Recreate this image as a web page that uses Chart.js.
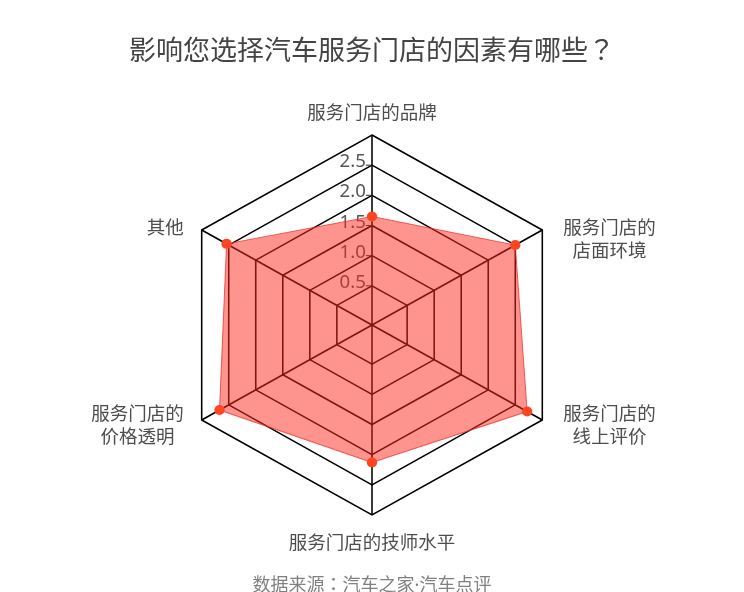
<!DOCTYPE html>
<html>
<head>
<meta charset="utf-8">
<script src="https://cdn.jsdelivr.net/npm/chart.js@4.4.1/dist/chart.umd.min.js"></script>
<style>
  html, body { margin: 0; padding: 0; background: #fff; }
  #wrap { position: relative; width: 744px; height: 592px; }
</style>
</head>
<body>
<div id="wrap"><canvas id="radar"></canvas></div>
<script>
var titleText = '影响您选择汽车服务门店的因素有哪些？';
var sourceText = '数据来源：汽车之家·汽车点评';
var categories = [
  '服务门店的品牌',
  ['服务门店的', '店面环境'],
  ['服务门店的', '线上评价'],
  '服务门店的技师水平',
  ['服务门店的', '价格透明'],
  '其他'
];
var scores = [1.65, 2.50, 2.72, 2.13, 2.67, 2.54];
var tickValues = [0.5, 1.0, 1.5, 2.0, 2.5, 3.0];
var tickLabels = ['0.5', '1.0', '1.5', '2.0', '2.5', ''];

var cjk = "'Noto Sans CJK SC', 'Noto Sans', sans-serif";
var cjkTitle = "'Noto Sans', 'Noto Sans CJK TC', sans-serif";
// the original polygon is a little wider than it is tall
var stretchX = 1.035;

var stretchPlugin = {
  id: 'stretchPlugin',
  beforeDraw: function(chart) {
    var s = chart.scales.r;
    var ctx = chart.ctx;
    ctx.save();
    ctx.translate(s.xCenter, 0);
    ctx.scale(stretchX, 1);
    ctx.translate(-s.xCenter, 0);
  },
  afterDatasetsDraw: function(chart) {
    chart.ctx.restore();
  }
};

// tick labels sit left of the vertical axis, under the filled area
var tickLabelPlugin = {
  id: 'tickLabelPlugin',
  beforeDatasetsDraw: function(chart) {
    var s = chart.scales.r;
    var ctx = chart.ctx;
    ctx.save();
    ctx.font = "18px 'Noto Sans', sans-serif";
    ctx.fillStyle = '#555';
    ctx.strokeStyle = '#333';
    ctx.lineWidth = 1;
    ctx.textAlign = 'right';
    ctx.textBaseline = 'middle';
    tickValues.forEach(function(v, i) {
      if (!tickLabels[i]) return;
      var y = s.yCenter - s.getDistanceFromCenterForValue(v);
      ctx.beginPath();
      ctx.moveTo(s.xCenter - 6, y);
      ctx.lineTo(s.xCenter, y);
      ctx.stroke();
      ctx.fillText(tickLabels[i], s.xCenter - 6, y - 3);
    });
    ctx.restore();
  }
};

// category labels, title and source line
var textPlugin = {
  id: 'textPlugin',
  afterDraw: function(chart) {
    var s = chart.scales.r;
    var ctx = chart.ctx;
    ctx.save();
    ctx.textBaseline = 'middle';
    ctx.textAlign = 'center';

    ctx.font = '27px ' + cjkTitle;
    ctx.fillStyle = '#444';
    ctx.fillText(titleText, chart.width / 2, 52.5);

    ctx.font = '18px ' + cjkTitle;
    ctx.fillStyle = '#808080';
    ctx.fillText(sourceText, chart.width / 2, 586);

    ctx.font = '18.5px ' + cjk;
    ctx.fillStyle = '#4d4d4d';
    var lh = 23;
    categories.forEach(function(lab, i) {
      var lines = Array.isArray(lab) ? lab : [lab];
      var p = s.getPointPositionForValue(i, s.max);
      var dx = (p.x - s.xCenter) * stretchX;
      var px = s.xCenter + dx;
      if (Math.abs(dx) < 1) {
        var y = p.y < s.yCenter ? p.y - 23 : p.y + 27;
        ctx.fillText(lines[0], px, y);
        return;
      }
      var w = 0;
      lines.forEach(function(t) { w = Math.max(w, ctx.measureText(t).width); });
      var left = dx > 0 ? px + 21 : px - 18 - w;
      var y0 = p.y < s.yCenter ? p.y - 3 : p.y - 7;
      lines.forEach(function(t, k) {
        ctx.fillText(t, left + w / 2, y0 + k * lh);
      });
    });
    ctx.restore();
  }
};

new Chart(document.getElementById('radar'), {
  type: 'radar',
  data: {
    labels: categories,
    datasets: [{
      data: scores,
      backgroundColor: 'rgba(255, 40, 30, 0.5)',
      borderColor: 'rgba(235, 50, 40, 0.75)',
      borderWidth: 1,
      pointRadius: 5,
      pointBorderWidth: 0,
      pointBackgroundColor: '#ff4422',
      fill: 'start'
    }]
  },
  options: {
    responsive: true,
    maintainAspectRatio: false,
    animation: false,
    layout: { padding: { top: 135, bottom: 77, left: 0, right: 0 } },
    plugins: {
      legend: { display: false },
      tooltip: { enabled: false }
    },
    scales: {
      r: {
        min: -0.15,
        max: 3.0,
        afterBuildTicks: function(scale) {
          scale.ticks = tickValues.map(function(v) { return { value: v }; });
        },
        ticks: { display: false },
        pointLabels: { display: false },
        grid: { color: '#000', lineWidth: 1.5 },
        angleLines: { color: '#000', lineWidth: 1.5 }
      }
    }
  },
  plugins: [stretchPlugin, tickLabelPlugin, textPlugin]
});
</script>
</body>
</html>
